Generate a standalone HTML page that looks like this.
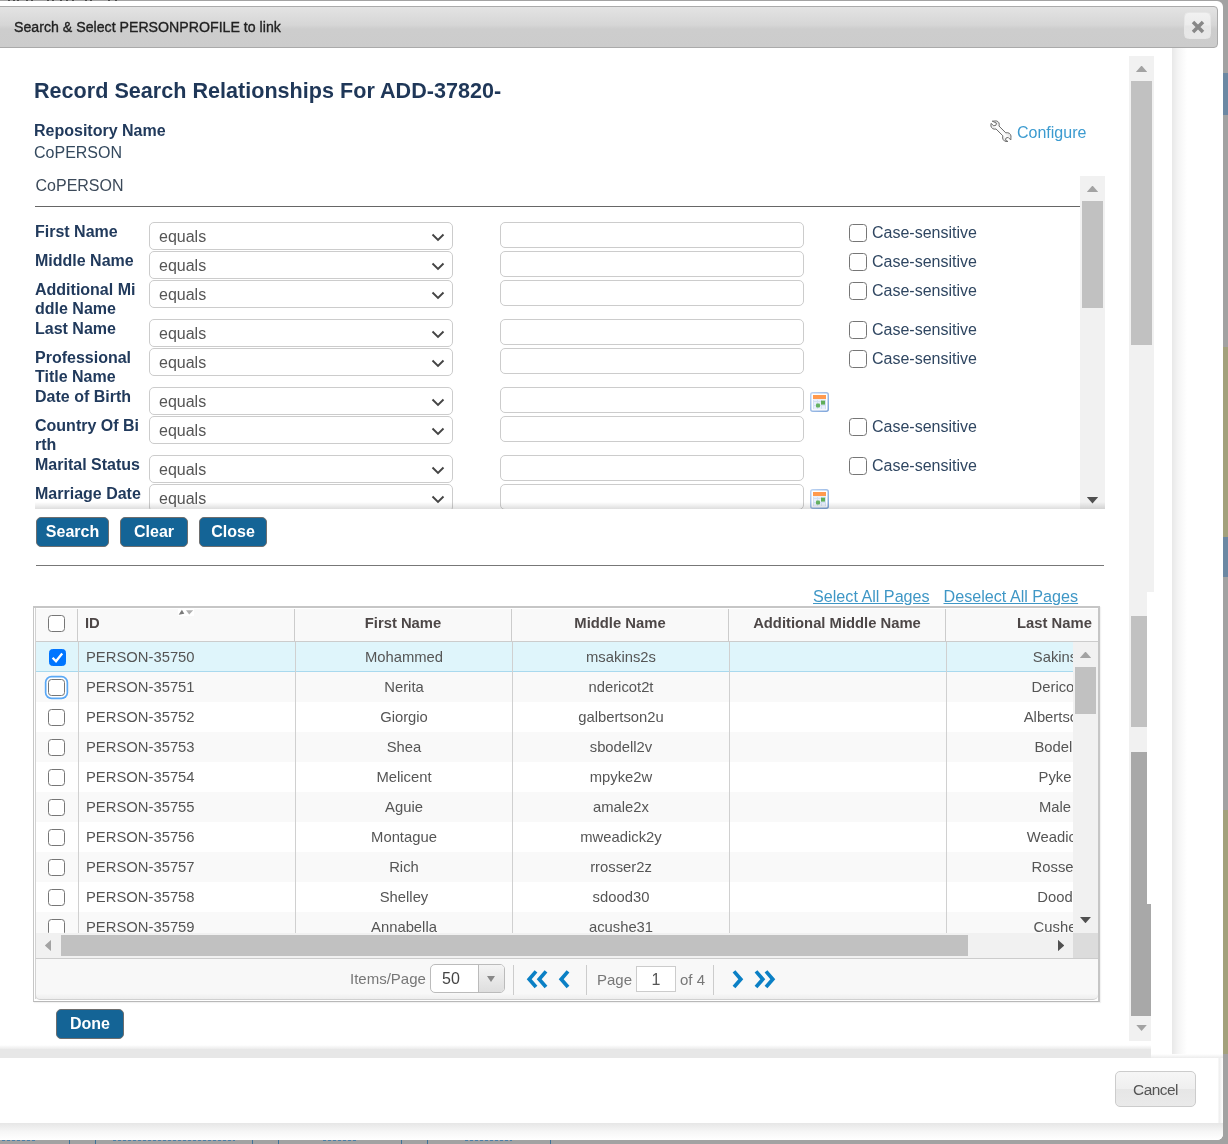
<!DOCTYPE html>
<html lang="en"><head><meta charset="utf-8"><title>Search &amp; Select PERSONPROFILE to link</title>
<style>
*{box-sizing:border-box}
html,body{margin:0;padding:0}
body{width:1228px;height:1144px;overflow:hidden;position:relative;background:#a2a2a2;font-family:"Liberation Sans",Arial,sans-serif;font-size:16px;color:#23395b}
.abs{position:absolute}
.dialog{position:absolute;left:-10px;top:1px;width:1233px;height:1139px;background:#fff;border-radius:6px}
.titlebar{position:absolute;left:-10px;top:6px;width:1228px;height:42px;border:1px solid #aaa;border-radius:4px;background:linear-gradient(to bottom,#e3e3e3 0%,#d6d6d6 45%,#cdcdcd 55%,#cccccc 100%)}
.title{position:absolute;left:23px;top:9.5px;font-size:15.4px;transform:scaleX(0.9203);transform-origin:0 0;line-height:20px;color:#222;white-space:nowrap;-webkit-text-stroke:0.35px #222}
.closebtn{position:absolute;left:1193.1px;top:5.1px;width:27px;height:27px;border-radius:4.5px;border:1px solid #e6e6e6;background:linear-gradient(to bottom,#f1f1f1 0%,#ececec 49%,#e6e6e6 51%,#e8e8e8 100%)}
.closebtn svg{position:absolute;left:6.1px;top:7px}
.band{left:1172px;top:48px;width:15px;height:1006px;background:linear-gradient(to right,#e8e8e8,#f4f4f4 40%,#fff)}
.hd{left:34px;top:78px;margin:0;font-size:21.6px;line-height:25px;font-weight:bold;color:#1f3758;white-space:nowrap;transform:scaleY(1.06);transform-origin:0 19.8px}
.lbl{font-weight:bold;color:#213a5c;line-height:18.8px;white-space:nowrap}
.txt{color:#34495e;line-height:18.4px}
.txt2{color:#3c4a5a;line-height:18.4px}
.cfg{left:990px;top:120px;height:22px;white-space:nowrap}
.cfg svg{position:absolute;left:0;top:0}
.cfg span{position:absolute;left:27px;top:4px;color:#3c9bd0;line-height:18.4px}
.inner{left:35px;top:176px;width:1070px;height:333px;overflow:hidden}
.sel{width:304px;height:28px;border:1px solid #ccc;border-radius:5px;background:#fff;color:#555;padding-left:9px;line-height:27.4px}
.sel .chev{position:absolute;right:7px;top:9.5px}
.inp{width:304px;height:26px;border:1px solid #ccc;border-radius:5px;background:#fff}
.cb{width:18px;height:18px;border:1.3px solid #767676;border-radius:3.5px;background:#fff}
.cs{color:#2f4661;line-height:18.4px;white-space:nowrap}
.sbv,.sbh{background:#f1f1f1}
.thumb{background:#c1c1c1}
.arr{width:11.4px;height:6.5px;background:#a3a3a3}
.arr.up{clip-path:polygon(50% 0,100% 100%,0 100%)}
.arr.down{clip-path:polygon(0 0,100% 0,50% 100%)}
.arr.left{width:6.4px;height:11.4px;clip-path:polygon(100% 0,100% 100%,0 50%)}
.arr.right{width:6.4px;height:11.4px;clip-path:polygon(0 0,100% 50%,0 100%)}
.arr.dark{background:#505050}
.btn{height:30px;border:1px solid #6e6e6e;border-radius:5px;background:#146496;color:#fff;font-weight:bold;text-align:center;line-height:27px}
.lnk{font-size:16.15px;color:#3f97c6;text-decoration:underline;line-height:18.4px;white-space:nowrap}
/* grid */
.gbox{left:33px;top:606px;width:1067px;height:396px;border:1px solid #c6c6c6;border-top-width:2px;border-bottom:1px solid #b8b8b8;border-right-width:2px;background:#fff;box-shadow:1px 1px 1px rgba(0,0,0,.05)}
.ghead{left:36px;top:609px;width:1062px;height:32px;background:#f9f9f9;overflow:hidden;font-size:14.8px;font-weight:bold;color:#4d4747}
.ghead .h{position:absolute;top:0;height:32px;line-height:28px;text-align:center;border-right:1px solid #ccc;white-space:nowrap}
.gbody{left:36px;top:642px;width:1062px;height:291px;overflow:hidden;background:#fff}
.grow{position:absolute;left:0;width:1128px;height:30px;font-size:14.8px;color:#555;line-height:30px}
.grow.alt{background:#f9f9f9}
.grow.rsel{background:#dff5fb;border-bottom:1px solid #a9d9ee}
.grow .c{position:absolute;top:0;height:30px;border-right:1px solid #d0d0d0;text-align:center;white-space:nowrap;overflow:hidden}
.c0{left:0;width:43px}.c1{left:43px;width:217px;text-align:left !important;padding-left:7px}.c2{left:260px;width:217px}.c3{left:477px;width:217px}.c4{left:694px;width:217px}.c5{left:911px;width:217px}
.cbg{position:absolute;left:12px;top:7px;width:17px;height:17px;border:1.3px solid #767676;border-radius:3.5px;background:#fff}
.cbg.chk{left:13px;background:#0075ff;border-color:#0075ff}
.cbg.chk svg{position:absolute;left:-1.3px;top:-1.3px}
.cbg.foc{box-shadow:0 0 0 1.5px #fff,0 0 0 3.2px #5aa8f5}

</style></head>
<body>
<div class="abs" style="left:1223px;top:73px;width:5px;height:42px;background:#6c88a3"></div>
<div class="abs" style="left:1223px;top:347px;width:5px;height:190px;background:#a3a17c"></div>
<div class="abs" style="left:1223px;top:537px;width:5px;height:40px;background:#6c88a3"></div>
<div class="abs" style="left:1223px;top:810px;width:5px;height:244px;background:#a3a17c"></div>
<div class="abs" style="left:69px;top:1140px;width:1px;height:4px;background:#3f7299"></div><div class="abs" style="left:95px;top:1140px;width:1px;height:4px;background:#3f7299"></div><div class="abs" style="left:252px;top:1140px;width:1px;height:4px;background:#3f7299"></div><div class="abs" style="left:278px;top:1140px;width:1px;height:4px;background:#3f7299"></div><div class="abs" style="left:401px;top:1140px;width:1px;height:4px;background:#3f7299"></div><div class="abs" style="left:427px;top:1140px;width:1px;height:4px;background:#3f7299"></div><div class="abs" style="left:550px;top:1140px;width:1px;height:4px;background:#3f7299"></div><div class="abs" style="left:2px;top:1140px;width:34px;height:1px;background:repeating-linear-gradient(to right,#4a7fa8 0,#4a7fa8 3px,#a2a2a2 3px,#a2a2a2 5px)"></div><div class="abs" style="left:113px;top:1140px;width:122px;height:1px;background:repeating-linear-gradient(to right,#4a7fa8 0,#4a7fa8 3px,#a2a2a2 3px,#a2a2a2 5px)"></div><div class="abs" style="left:323px;top:1140px;width:34px;height:1px;background:repeating-linear-gradient(to right,#4a7fa8 0,#4a7fa8 3px,#a2a2a2 3px,#a2a2a2 5px)"></div><div class="abs" style="left:465px;top:1140px;width:47px;height:1px;background:repeating-linear-gradient(to right,#4a7fa8 0,#4a7fa8 3px,#a2a2a2 3px,#a2a2a2 5px)"></div><div class="abs" style="left:8px;top:0;width:2px;height:1px;background:#4a4a4a"></div><div class="abs" style="left:13px;top:0;width:2px;height:1px;background:#4a4a4a"></div><div class="abs" style="left:17px;top:0;width:2px;height:1px;background:#4a4a4a"></div><div class="abs" style="left:26px;top:0;width:2px;height:1px;background:#4a4a4a"></div><div class="abs" style="left:31px;top:0;width:2px;height:1px;background:#4a4a4a"></div><div class="abs" style="left:47px;top:0;width:2px;height:1px;background:#4a4a4a"></div><div class="abs" style="left:52px;top:0;width:2px;height:1px;background:#4a4a4a"></div><div class="abs" style="left:60px;top:0;width:2px;height:1px;background:#4a4a4a"></div><div class="abs" style="left:66px;top:0;width:2px;height:1px;background:#4a4a4a"></div><div class="abs" style="left:72px;top:0;width:2px;height:1px;background:#4a4a4a"></div><div class="abs" style="left:85px;top:0;width:2px;height:1px;background:#4a4a4a"></div><div class="abs" style="left:90px;top:0;width:2px;height:1px;background:#4a4a4a"></div><div class="abs" style="left:108px;top:0;width:2px;height:1px;background:#4a4a4a"></div><div class="abs" style="left:115px;top:0;width:2px;height:1px;background:#4a4a4a"></div>
<div class="dialog"></div>
<div class="titlebar"><span class="title">Search &amp; Select PERSONPROFILE to link</span><div class="closebtn"><svg width="14" height="14" viewBox="0 0 14 14"><path d="M2 2 L12 12 M12 2 L2 12" stroke="#888" stroke-width="3.5" stroke-linecap="butt" fill="none"/></svg></div></div>
<div class="abs band"></div>
<div class="abs" style="left:1129px;top:56px;width:25px;height:536px;background:#f1f1f1"></div>
<div class="abs" style="left:1129px;top:592px;width:18px;height:449px;background:#f1f1f1"></div>
<div class="abs" style="left:1147px;top:904px;width:4px;height:137px;background:#f1f1f1"></div>
<div class="abs arr up" style="left:1135.9px;top:65.6px"></div>
<div class="abs thumb" style="left:1131px;top:81px;width:21px;height:264px"></div>
<div class="abs thumb" style="left:1131px;top:616px;width:16px;height:111px"></div>
<div class="abs" style="left:1131px;top:752px;width:16px;height:264px;background:#a8a8a8"></div>
<div class="abs" style="left:1147px;top:904px;width:4px;height:112px;background:#a8a8a8"></div>
<div class="abs arr down" style="left:1135.9px;top:1024.6px"></div>
<h2 class="abs hd">Record Search Relationships For ADD-37820-</h2>
<div class="abs lbl" style="left:34px;top:122px">Repository Name</div>
<div class="abs txt" style="left:34px;top:144px">CoPERSON</div>
<div class="abs cfg"><svg width="22" height="22" viewBox="0 0 22 22"><defs><linearGradient id="wg" x1="1" y1="0" x2="0" y2="1"><stop offset="0.25" stop-color="#c9c9c9"/><stop offset="0.5" stop-color="#ffffff"/><stop offset="0.75" stop-color="#cdcdcd"/></linearGradient></defs><path fill="url(#wg)" stroke="#6f6f6f" stroke-width="1" stroke-linejoin="round" d="M2.2 1.2 L6.3 0.9 C8.8 1.4 9.8 3.6 9 6 L15.8 12.8 C18.6 12.2 20.6 13.6 21 16 L20.8 20 L18.2 17.4 L16 18 L15.5 20.2 L18 21.5 C15.2 22 13 20.6 12.6 18 L12.8 15.8 L6 9 C3.4 9.7 1.4 8.3 0.9 6 L1 3.4 L3.8 5.8 L6 5.2 L6.4 3 Z"/></svg>
<span>Configure</span></div>
<div class="abs inner">
<div class="abs txt2" style="left:0.5px;top:1px">CoPERSON</div>
<div class="abs" style="left:0;top:30px;width:1045px;height:1px;background:#666"></div>
<div class="abs lbl" style="left:0;top:47px">First Name</div><div class="abs sel" style="left:114px;top:46px">equals<svg class="chev" width="14" height="9" viewBox="0 0 14 9"><path d="M1.5 1.5 L7 7 L12.5 1.5" fill="none" stroke="#444" stroke-width="1.9"/></svg></div><div class="abs inp" style="left:465px;top:46px"></div><div class="abs cb" style="left:814px;top:48px"></div><div class="abs cs" style="left:837px;top:48px">Case-sensitive</div>
<div class="abs lbl" style="left:0;top:76px">Middle Name</div><div class="abs sel" style="left:114px;top:75px">equals<svg class="chev" width="14" height="9" viewBox="0 0 14 9"><path d="M1.5 1.5 L7 7 L12.5 1.5" fill="none" stroke="#444" stroke-width="1.9"/></svg></div><div class="abs inp" style="left:465px;top:75px"></div><div class="abs cb" style="left:814px;top:77px"></div><div class="abs cs" style="left:837px;top:77px">Case-sensitive</div>
<div class="abs lbl" style="left:0;top:105px">Additional Mi<br>ddle Name</div><div class="abs sel" style="left:114px;top:104px">equals<svg class="chev" width="14" height="9" viewBox="0 0 14 9"><path d="M1.5 1.5 L7 7 L12.5 1.5" fill="none" stroke="#444" stroke-width="1.9"/></svg></div><div class="abs inp" style="left:465px;top:104px"></div><div class="abs cb" style="left:814px;top:106px"></div><div class="abs cs" style="left:837px;top:106px">Case-sensitive</div>
<div class="abs lbl" style="left:0;top:144px">Last Name</div><div class="abs sel" style="left:114px;top:143px">equals<svg class="chev" width="14" height="9" viewBox="0 0 14 9"><path d="M1.5 1.5 L7 7 L12.5 1.5" fill="none" stroke="#444" stroke-width="1.9"/></svg></div><div class="abs inp" style="left:465px;top:143px"></div><div class="abs cb" style="left:814px;top:145px"></div><div class="abs cs" style="left:837px;top:145px">Case-sensitive</div>
<div class="abs lbl" style="left:0;top:173px">Professional<br>Title Name</div><div class="abs sel" style="left:114px;top:172px">equals<svg class="chev" width="14" height="9" viewBox="0 0 14 9"><path d="M1.5 1.5 L7 7 L12.5 1.5" fill="none" stroke="#444" stroke-width="1.9"/></svg></div><div class="abs inp" style="left:465px;top:172px"></div><div class="abs cb" style="left:814px;top:174px"></div><div class="abs cs" style="left:837px;top:174px">Case-sensitive</div>
<div class="abs lbl" style="left:0;top:212px">Date of Birth</div><div class="abs sel" style="left:114px;top:211px">equals<svg class="chev" width="14" height="9" viewBox="0 0 14 9"><path d="M1.5 1.5 L7 7 L12.5 1.5" fill="none" stroke="#444" stroke-width="1.9"/></svg></div><div class="abs inp" style="left:465px;top:211px"></div><div class="abs" style="left:775px;top:216px;width:19px;height:20px"><svg width="19" height="20" viewBox="0 0 19 20"><defs><linearGradient id="cg" x1="0" y1="0" x2="1" y2="1"><stop offset="0" stop-color="#bdd3f2"/><stop offset="1" stop-color="#7ea5da"/></linearGradient></defs><rect x="0.75" y="0.75" width="17.5" height="18.5" rx="2" fill="#fff" stroke="url(#cg)" stroke-width="1.5"/><rect x="3" y="7" width="13" height="10.5" fill="#e9f0fb"/><rect x="3" y="3" width="13" height="4" fill="#ff9a4f"/><g stroke="#d3e0f4" stroke-width="1"><path d="M3.5 8 V17 M7.5 8 V17 M11.5 8 V17 M15.5 8 V17 M3 9.5 H16 M3 13.5 H16"/></g><rect x="11" y="8.6" width="4" height="4" fill="#5fae5a"/><rect x="6" y="11.6" width="4" height="4" rx="1" fill="#66b262"/></svg>
</div>
<div class="abs lbl" style="left:0;top:241px">Country Of Bi<br>rth</div><div class="abs sel" style="left:114px;top:240px">equals<svg class="chev" width="14" height="9" viewBox="0 0 14 9"><path d="M1.5 1.5 L7 7 L12.5 1.5" fill="none" stroke="#444" stroke-width="1.9"/></svg></div><div class="abs inp" style="left:465px;top:240px"></div><div class="abs cb" style="left:814px;top:242px"></div><div class="abs cs" style="left:837px;top:242px">Case-sensitive</div>
<div class="abs lbl" style="left:0;top:280px">Marital Status</div><div class="abs sel" style="left:114px;top:279px">equals<svg class="chev" width="14" height="9" viewBox="0 0 14 9"><path d="M1.5 1.5 L7 7 L12.5 1.5" fill="none" stroke="#444" stroke-width="1.9"/></svg></div><div class="abs inp" style="left:465px;top:279px"></div><div class="abs cb" style="left:814px;top:281px"></div><div class="abs cs" style="left:837px;top:281px">Case-sensitive</div>
<div class="abs lbl" style="left:0;top:309px">Marriage Date</div><div class="abs sel" style="left:114px;top:308px">equals<svg class="chev" width="14" height="9" viewBox="0 0 14 9"><path d="M1.5 1.5 L7 7 L12.5 1.5" fill="none" stroke="#444" stroke-width="1.9"/></svg></div><div class="abs inp" style="left:465px;top:308px"></div><div class="abs" style="left:775px;top:313px;width:19px;height:20px"><svg width="19" height="20" viewBox="0 0 19 20"><defs><linearGradient id="cg" x1="0" y1="0" x2="1" y2="1"><stop offset="0" stop-color="#bdd3f2"/><stop offset="1" stop-color="#7ea5da"/></linearGradient></defs><rect x="0.75" y="0.75" width="17.5" height="18.5" rx="2" fill="#fff" stroke="url(#cg)" stroke-width="1.5"/><rect x="3" y="7" width="13" height="10.5" fill="#e9f0fb"/><rect x="3" y="3" width="13" height="4" fill="#ff9a4f"/><g stroke="#d3e0f4" stroke-width="1"><path d="M3.5 8 V17 M7.5 8 V17 M11.5 8 V17 M15.5 8 V17 M3 9.5 H16 M3 13.5 H16"/></g><rect x="11" y="8.6" width="4" height="4" fill="#5fae5a"/><rect x="6" y="11.6" width="4" height="4" rx="1" fill="#66b262"/></svg>
</div>
<div class="abs sbv" style="left:1045px;top:0;width:25px;height:333px"><div class="abs arr up" style="left:6.8px;top:9.5px"></div><div class="abs thumb" style="left:2px;top:25px;width:21px;height:107px"></div><div class="abs arr down dark" style="left:6.8px;top:321px"></div></div>
<div class="abs" style="left:0;top:326px;width:1070px;height:7px;background:linear-gradient(to bottom,rgba(0,0,0,0),rgba(0,0,0,.13))"></div>
</div>
<div class="abs btn" style="left:36px;top:517px;width:73px">Search</div><div class="abs btn" style="left:120px;top:517px;width:68px">Clear</div><div class="abs btn" style="left:199px;top:517px;width:68px">Close</div>
<div class="abs" style="left:36px;top:565px;width:1068px;height:1px;background:#777"></div>
<a class="abs lnk" style="left:813px;top:587px">Select All Pages</a><a class="abs lnk" style="left:943.5px;top:587px">Deselect All Pages</a>
<div class="abs gbox"></div>
<div class="abs" style="left:35px;top:608px;width:1px;height:391px;background:#d2d2d2"></div>
<div class="abs ghead">
<div class="h" style="left:0;width:42px"><div class="cbg" style="left:12px;top:6px"></div></div>
<div class="h" style="left:42px;width:217px;text-align:left;padding-left:7px">ID<svg style="position:absolute;left:100px;top:0px" width="16" height="7" viewBox="0 0 16 7"><rect width="16" height="7" fill="#fff"/><path d="M0.7 5.8 L3.9 0.7 L6.3 4.8 Z" fill="#7a7a7a"/><path d="M8 1.2 L15.2 1.2 L11.2 5.4 Z" fill="#b0b0b0"/></svg></div>
<div class="h" style="left:259px;width:217px">First Name</div>
<div class="h" style="left:476px;width:217px">Middle Name</div>
<div class="h" style="left:693px;width:217px">Additional Middle Name</div>
<div class="h" style="left:910px;width:217px;border-right:0">Last Name</div>
</div>
<div class="abs" style="left:36px;top:641px;width:1062px;height:1px;background:#ccc"></div>
<div class="abs gbody">
<div class="grow rsel" style="top:0px"><div class="c c0"><div class="cbg chk"><svg width="17" height="17" viewBox="0 0 17 17"><path d="M3.6 8.8 L7 12.2 L13.2 4.6" fill="none" stroke="#fff" stroke-width="2.3"/></svg></div></div><div class="c c1">PERSON-35750</div><div class="c c2">Mohammed</div><div class="c c3">msakins2s</div><div class="c c4"></div><div class="c c5">Sakins</div></div>
<div class="grow alt" style="top:30px"><div class="c c0"><div class="cbg foc"></div></div><div class="c c1">PERSON-35751</div><div class="c c2">Nerita</div><div class="c c3">ndericot2t</div><div class="c c4"></div><div class="c c5">Dericot</div></div>
<div class="grow " style="top:60px"><div class="c c0"><div class="cbg"></div></div><div class="c c1">PERSON-35752</div><div class="c c2">Giorgio</div><div class="c c3">galbertson2u</div><div class="c c4"></div><div class="c c5">Albertson</div></div>
<div class="grow alt" style="top:90px"><div class="c c0"><div class="cbg"></div></div><div class="c c1">PERSON-35753</div><div class="c c2">Shea</div><div class="c c3">sbodell2v</div><div class="c c4"></div><div class="c c5">Bodell</div></div>
<div class="grow " style="top:120px"><div class="c c0"><div class="cbg"></div></div><div class="c c1">PERSON-35754</div><div class="c c2">Melicent</div><div class="c c3">mpyke2w</div><div class="c c4"></div><div class="c c5">Pyke</div></div>
<div class="grow alt" style="top:150px"><div class="c c0"><div class="cbg"></div></div><div class="c c1">PERSON-35755</div><div class="c c2">Aguie</div><div class="c c3">amale2x</div><div class="c c4"></div><div class="c c5">Male</div></div>
<div class="grow " style="top:180px"><div class="c c0"><div class="cbg"></div></div><div class="c c1">PERSON-35756</div><div class="c c2">Montague</div><div class="c c3">mweadick2y</div><div class="c c4"></div><div class="c c5">Weadick</div></div>
<div class="grow alt" style="top:210px"><div class="c c0"><div class="cbg"></div></div><div class="c c1">PERSON-35757</div><div class="c c2">Rich</div><div class="c c3">rrosser2z</div><div class="c c4"></div><div class="c c5">Rosser</div></div>
<div class="grow " style="top:240px"><div class="c c0"><div class="cbg"></div></div><div class="c c1">PERSON-35758</div><div class="c c2">Shelley</div><div class="c c3">sdood30</div><div class="c c4"></div><div class="c c5">Dood</div></div>
<div class="grow alt" style="top:270px"><div class="c c0"><div class="cbg"></div></div><div class="c c1">PERSON-35759</div><div class="c c2">Annabella</div><div class="c c3">acushe31</div><div class="c c4"></div><div class="c c5">Cushe</div></div>
</div>
<div class="abs sbv" style="left:1073px;top:642px;width:25px;height:291px">
<div class="abs arr up" style="left:6.8px;top:9.6px"></div>
<div class="abs thumb" style="left:2px;top:25px;width:21px;height:47px"></div>
<div class="abs arr down dark" style="left:6.8px;top:274.7px"></div>
</div>
<div class="abs sbh" style="left:36px;top:933px;width:1037px;height:25px">
<div class="abs arr left" style="left:8.8px;top:6.8px"></div>
<div class="abs thumb" style="left:25px;top:2px;width:907px;height:21px"></div>
<div class="abs arr right dark" style="left:1021.9px;top:6.8px"></div>
</div>
<div class="abs" style="left:1073px;top:933px;width:25px;height:25px;background:#dcdcdc"></div>
<div class="abs pager" style="left:35px;top:958px;width:1063px;height:42px;border-top:1px solid #ccc;border-left:1px solid #d2d2d2;border-bottom:1px solid #d0d0d0;border-radius:0 0 5px 5px;background:linear-gradient(#f8f8f8 0,#f8f8f8 86%,#eeeeee 100%);font-size:15px;color:#777">
<span class="abs" style="left:314px;top:11px;line-height:18px">Items/Page</span>
<div class="abs" style="left:394px;top:5px;width:75px;height:29px;border:1px solid #bbb;border-radius:5px;background:#fff;overflow:hidden"><span class="abs" style="left:11px;top:5px;font-size:16px;color:#444;line-height:18px">50</span><div class="abs" style="left:47px;top:0;width:26px;height:27px;border-left:1px solid #bbb;background:linear-gradient(#f4f4f4,#dedede)"><div class="abs" style="left:8px;top:11px;width:0;height:0;border-left:4.5px solid transparent;border-right:4.5px solid transparent;border-top:6px solid #888"></div></div></div>
<div class="abs" style="left:477px;top:6px;width:1px;height:30px;background:#ccc"></div>
<svg class="abs" style="left:490px;top:11px" width="22" height="20" viewBox="0 0 22 20"><path d="M10 1.4 L3.2 9.2 L10 17 M20 1.4 L13.2 9.2 L20 17" fill="none" stroke="#0b80c5" stroke-width="3.7"/></svg>
<svg class="abs" style="left:521px;top:11px" width="13" height="20" viewBox="0 0 13 20"><path d="M11 1.4 L4.2 9.2 L11 17" fill="none" stroke="#0b80c5" stroke-width="3.7"/></svg>
<div class="abs" style="left:550px;top:6px;width:1px;height:30px;background:#ccc"></div>
<span class="abs" style="left:561px;top:12px;line-height:18px">Page</span>
<div class="abs" style="left:600px;top:7px;width:40px;height:26px;border:1px solid #ccc;background:#fff;text-align:center;color:#555;font-size:16px;line-height:26px">1</div>
<span class="abs" style="left:644px;top:12px;line-height:18px">of 4</span>
<div class="abs" style="left:677px;top:6px;width:1px;height:30px;background:#ccc"></div>
<svg class="abs" style="left:696px;top:11px" width="13" height="20" viewBox="0 0 13 20"><path d="M2 1.4 L8.8 9.2 L2 17" fill="none" stroke="#0b80c5" stroke-width="3.7"/></svg>
<svg class="abs" style="left:718px;top:11px" width="22" height="20" viewBox="0 0 22 20"><path d="M2 1.4 L8.8 9.2 L2 17 M12 1.4 L18.8 9.2 L12 17" fill="none" stroke="#0b80c5" stroke-width="3.7"/></svg>
</div>
<div class="abs btn" style="left:56px;top:1009px;width:68px">Done</div>
<div class="abs" style="left:0;top:1045px;width:1151px;height:5px;background:linear-gradient(#fff,#e7e7e7)"></div>
<div class="abs" style="left:0;top:1049px;width:1151px;height:9px;background:#e7e7e7"></div>
<div class="abs" style="left:1151px;top:1054px;width:72px;height:4px;background:linear-gradient(#fff,#ececec)"></div>
<div class="abs" style="left:0;top:1058px;width:1223px;height:82px;background:linear-gradient(to right,#fff 0,#fff 1218px,#ededed 1219px,#fff 1223px);border-radius:0 0 6px 0"></div>
<div class="abs" style="left:0;top:1058px;width:1218px;height:65px;background:#fff"></div>
<div class="abs" style="left:0;top:1123px;width:1223px;height:17px;background:linear-gradient(#e6e6e6,#f6f6f6 50%,#fff);border-radius:0 0 6px 0"></div>
<div class="abs" style="left:1115px;top:1071px;width:81px;height:36px;border:1px solid #ccc;border-radius:5px;background:linear-gradient(#f6f6f6 0%,#efefef 49%,#e6e6e6 51%,#eaeaea 100%);color:#555;font-size:15.4px;letter-spacing:-0.5px;text-align:center;line-height:36px">Cancel</div>
</body></html>
